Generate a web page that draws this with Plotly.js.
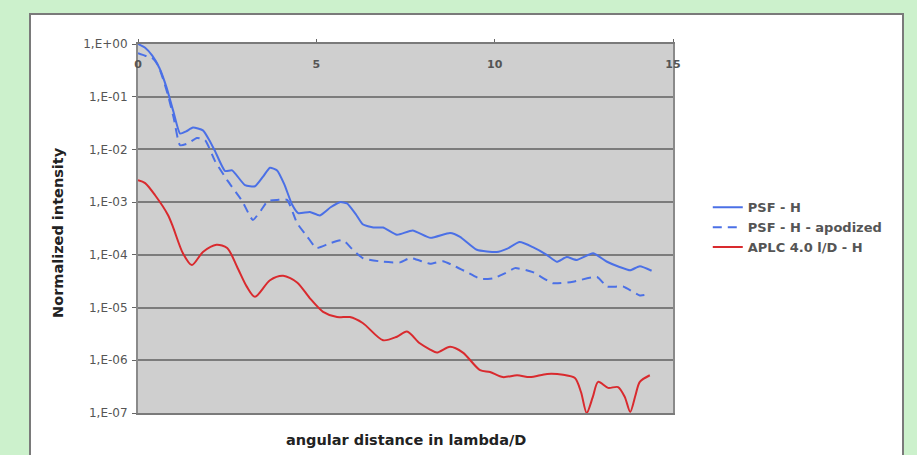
<!DOCTYPE html>
<html>
<head>
<meta charset="utf-8">
<script src="https://cdn.plot.ly/plotly-3.0.1.min.js"></script>
<style>
html,body{margin:0;padding:0;background:#ccf1cc;width:917px;height:455px;overflow:hidden;}
#panel{position:absolute;left:29px;top:13px;width:871px;height:460px;background:#ffffff;border:2px solid #7a7a7a;border-bottom:none;}
#chart{position:absolute;left:0;top:0;width:917px;height:455px;}
</style>
</head>
<body>
<div id="panel"></div>
<div id="chart"></div>
<script>
// Data
const psfX = [0, 0.2, 0.4, 0.6, 0.8, 1.0, 1.18, 1.35, 1.54, 1.82, 2.0, 2.16, 2.44, 2.64, 3.0, 3.28, 3.5, 3.7, 3.9, 4.1, 4.32, 4.49, 4.82, 5.1, 5.4, 5.66, 5.86, 6.1, 6.3, 6.6, 6.87, 7.26, 7.7, 8.2, 8.75, 9.03, 9.5, 10.06, 10.34, 10.7, 11.07, 11.46, 11.74, 12.02, 12.3, 12.76, 13.15, 13.5, 13.8, 14.07, 14.4];
const psfY = [1.0, 0.85, 0.6, 0.35, 0.15, 0.05, 0.02, 0.022, 0.026, 0.023, 0.015, 0.0093, 0.0039, 0.004, 0.0021, 0.002, 0.003, 0.0045, 0.004, 0.0022, 0.0009, 0.00062, 0.00065, 0.00056, 0.0008, 0.001, 0.00095, 0.0006, 0.00038, 0.00033, 0.00033, 0.00024, 0.00029, 0.00021, 0.00026, 0.00022, 0.000125, 0.000113, 0.00013, 0.000175, 0.00014, 0.0001, 0.000074, 0.000091, 0.00008, 0.000107, 0.000074, 0.000059, 0.000051, 0.000061, 0.00005];

const apoX = [0, 0.2, 0.39, 0.56, 0.7, 0.84, 1.0, 1.18, 1.4, 1.65, 1.88, 2.16, 2.52, 2.92, 3.22, 3.45, 3.64, 3.9, 4.18, 4.46, 4.75, 5.0, 5.38, 5.75, 6.0, 6.3, 6.87, 7.35, 7.63, 8.19, 8.55, 8.9, 9.22, 9.6, 9.96, 10.3, 10.57, 11.07, 11.63, 12.2, 12.87, 13.15, 13.6, 14.07, 14.35];
const apoY = [0.67, 0.6, 0.55, 0.4, 0.22, 0.107, 0.04, 0.012, 0.013, 0.0165, 0.015, 0.006, 0.0025, 0.00105, 0.00046, 0.0007, 0.00105, 0.0011, 0.0011, 0.0004, 0.00022, 0.000135, 0.000166, 0.00019, 0.00013, 0.000087, 0.000074, 0.000072, 0.000087, 0.000068, 0.000076, 0.00006, 0.000047, 0.000035, 0.000036, 0.000045, 0.000056, 0.000047, 0.000029, 0.000031, 0.000038, 0.000025, 0.000025, 0.000017, 0.000018];

const aplcX = [0, 0.2, 0.48, 0.84, 0.98, 1.26, 1.51, 1.82, 2.2, 2.5, 2.78, 3.05, 3.28, 3.7, 4.07, 4.46, 4.82, 5.19, 5.58, 5.94, 6.3, 6.87, 7.26, 7.54, 7.9, 8.19, 8.38, 8.75, 9.11, 9.59, 9.87, 10.23, 10.63, 10.99, 11.47, 11.92, 12.25, 12.42, 12.58, 12.75, 12.9, 13.18, 13.46, 13.65, 13.8, 13.95, 14.07, 14.35];
const aplcY = [0.0026, 0.0023, 0.00135, 0.00057, 0.00034, 0.000107, 0.000064, 0.000113, 0.000155, 0.000135, 0.000059, 0.000025, 0.000016, 0.000033, 0.00004, 0.00003, 0.000015, 8.3e-6, 6.6e-6, 6.6e-6, 5.1e-6, 2.4e-6, 2.8e-6, 3.5e-6, 2.1e-6, 1.6e-6, 1.4e-6, 1.8e-6, 1.4e-6, 6.5e-7, 6e-7, 4.8e-7, 5.2e-7, 4.8e-7, 5.5e-7, 5.3e-7, 4.6e-7, 2.5e-7, 1e-7, 2e-7, 3.9e-7, 3e-7, 3.1e-7, 2e-7, 1.05e-7, 2.2e-7, 3.9e-7, 5.2e-7];

const seriesNames = ['PSF - H', 'PSF - H - apodized', 'APLC 4.0 l/D - H'];
const yTickVals = [1, 1e-1, 1e-2, 1e-3, 1e-4, 1e-5, 1e-6, 1e-7];
const yTickText = ['1,E+00', '1,E-01', '1,E-02', '1,E-03', '1,E-04', '1,E-05', '1,E-06', '1,E-07'];
const xTickVals = [0, 5, 10, 15];
const xTitle = 'angular distance in lambda/D';
const yTitle = 'Normalized intensity';

const FONT = 'DejaVu Sans, Verdana, sans-serif';
const blue = '#4b70e6';
const red = '#d92a2e';

const traces = [
  {x: psfX, y: psfY, name: seriesNames[0], mode: 'lines',
   line: {color: blue, width: 2, shape: 'spline', smoothing: 0.5}},
  {x: apoX, y: apoY, name: seriesNames[1], mode: 'lines',
   line: {color: blue, width: 2, dash: '9px,6px', shape: 'spline', smoothing: 0.5}},
  {x: aplcX, y: aplcY, name: seriesNames[2], mode: 'lines',
   line: {color: red, width: 2, shape: 'spline', smoothing: 0.8}}
];

const layout = {
  width: 917, height: 455,
  margin: {l: 138, r: 244, t: 44, b: 42},
  paper_bgcolor: 'rgba(0,0,0,0)',
  plot_bgcolor: '#cfcfcf',
  font: {family: FONT, size: 10, color: '#333333'},
  showlegend: true,
  legend: {x: 1.065, y: 0.598, xanchor: 'left', yanchor: 'top',
           bgcolor: 'rgba(0,0,0,0)', font: {family: FONT, size: 13, color: '#555555', weight: 'bold'},
           tracegroupgap: 0},
  xaxis: {
    type: 'linear', range: [0, 15], side: 'top',
    tickvals: xTickVals, ticktext: xTickVals.map(String),
    ticks: 'outside', ticklen: 3, tickcolor: '#666',
    ticklabelposition: 'inside', ticklabeloverflow: 'allow', ticklabelstandoff: 16,
    tickfont: {family: FONT, size: 11, color: '#555', weight: 'bold'},
    showgrid: false, zeroline: false,
    showline: true, linecolor: '#7a7a7a', linewidth: 2, mirror: true
  },
  yaxis: {
    type: 'log', range: [-7, 0],
    tickvals: yTickVals, ticktext: yTickText,
    ticks: 'outside', ticklen: 4, tickcolor: '#666', ticklabelstandoff: 2,
    tickfont: {family: FONT, size: 12, color: '#555'},
    showgrid: true, gridcolor: '#7c7c7c', gridwidth: 2,
    zeroline: false,
    showline: true, linecolor: '#8a8a8a', linewidth: 2, mirror: true
  },
  annotations: [
    {text: '<b>' + xTitle + '</b>', xref: 'paper', yref: 'paper',
     x: 0.5, y: -0.045, xanchor: 'center', yanchor: 'top', showarrow: false,
     font: {family: FONT, size: 14.5, color: '#222'}},
    {text: '<b>' + yTitle + '</b>', xref: 'paper', yref: 'paper',
     x: -0.15, y: 0.49, xanchor: 'center', yanchor: 'middle', showarrow: false,
     textangle: -90, font: {family: FONT, size: 14.5, color: '#222'}}
  ]
};

Plotly.newPlot('chart', traces, layout, {displayModeBar: false, staticPlot: true});
</script>
</body>
</html>
